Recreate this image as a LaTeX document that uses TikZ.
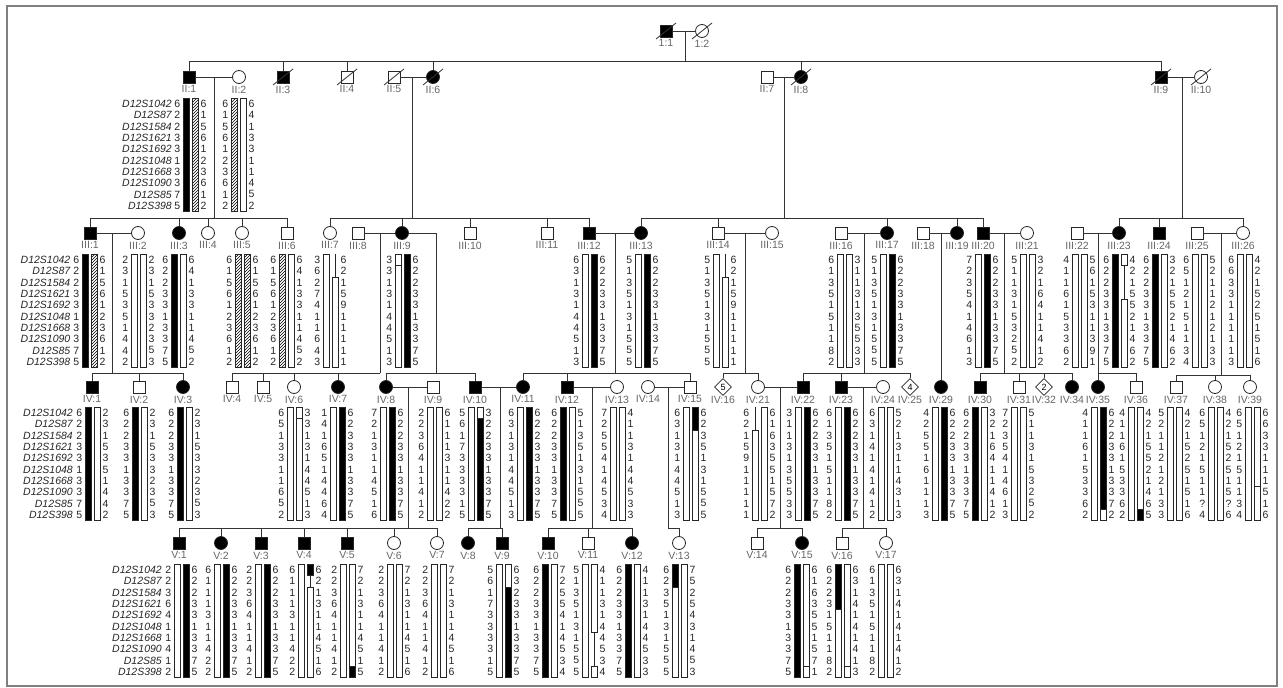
\documentclass[tikz,border=0pt]{standalone}
\usepackage{fontspec}
\setmainfont{Liberation Sans}
\usetikzlibrary{positioning,shapes.geometric,patterns}

\tikzset{
  kin/.style={draw=black!80,line width=0.8pt},
  male/.style={draw=black!85,line width=0.8pt,rectangle,minimum size=12pt,inner sep=0pt},
  female/.style={draw=black!85,line width=0.8pt,circle,minimum size=13pt,inner sep=0pt},
  unk/.style={draw=black!85,line width=0.8pt,diamond,minimum size=17pt,inner sep=0pt,font=\fontsize{9}{9}\selectfont},
  aff/.style={fill=black},
  lbl/.style={inner sep=0pt,text=black!60,font=\fontsize{10.5}{11}\selectfont},
  allele/.style={inner sep=0pt,text=black!85,font=\fontsize{10.5}{11}\selectfont},
  marker/.style={inner sep=0pt,text=black!85,font=\fontsize{10.5}{11}\selectfont\itshape},
  hapline/.style={draw=black!85,line width=0.7pt},
}

% row distance of the haplotype tables
\def\rs{11.3}
% bar pieces: x, first row y, from row, to row
\newcommand\barW[4]{\draw[hapline,fill=white] ({#1},{#2+(#3-0.5)*\rs}) rectangle ({#1+6},{#2+(#4-0.5)*\rs});}
\newcommand\barB[4]{\draw[hapline,fill=black] ({#1},{#2+(#3-0.5)*\rs}) rectangle ({#1+6},{#2+(#4-0.5)*\rs});}
\newcommand\barH[4]{\draw[hapline,pattern=north east lines] ({#1},{#2+(#3-0.5)*\rs}) rectangle ({#1+6},{#2+(#4-0.5)*\rs});}
\newcommand\barL[4]{\draw[hapline] ({#1+3},{#2+(#3-0.5)*\rs}) -- ({#1+3},{#2+(#4-0.5)*\rs});}
\newcommand\hapbar[3]{\foreach \sk/\sa/\sb in {#3}{\csname bar\sk\endcsname{#1}{#2}{\sa}{\sb}}}
% name, x of first bar, y of first row, left alleles, bar 1, bar 2, right alleles
\newcommand\hap[7]{%
  \foreach \al [count=\ri from 0] in {#4}
    \node[allele,anchor=east] (#1-l\ri) at ({#2-2.5},{#3+\ri*\rs}) {\al};
  \hapbar{#2}{#3}{#5}
  \hapbar{#2+9}{#3}{#6}
  \foreach \al [count=\ri from 0] in {#7}
    \node[allele,anchor=west] (#1-r\ri) at ({#2+17.5},{#3+\ri*\rs}) {\al};
}
\newcommand\markers[3]{%
  \foreach \mk [count=\ri from 0] in {D12S1042,D12S87,D12S1584,D12S1621,D12S1692,D12S1048,D12S1668,D12S1090,D12S85,D12S398}
    \node[marker,anchor=east] (#1-m\ri) at (#2,{#3+\ri*\rs}) {\mk};
}
% [text] name, style, x, y, label
\newcommand\ind[6][]{\node[#3] (#2) at (#4,#5) {#1};
  \node[lbl,below=8.5pt of #2.center] (#2-t) {#6};}
% descent point, sibship y, children
\newcommand\kids[3]{%
  \draw[kin] (#1) -- (#1 |- 0,#2);
  \foreach \kd in {#3} \draw[kin] (#1 |- 0,#2) -| (\kd.north);
}

\begin{document}
\begin{tikzpicture}[x=1pt,y=-1pt]
\useasboundingbox (0,0) rectangle (1283,688);
\draw[draw=black!50,line width=1.2pt] (7,6) rectangle (1277,686);

% generation I
\ind{I1}{male,aff}{666}{31}{1:1}
\ind{I2}{female}{702}{31}{1:2}

% generation II
\ind{II1}{male,aff}{189}{77}{II:1}
\ind{II2}{female}{239}{77}{II:2}
\ind{II3}{male,aff}{283}{77}{II:3}
\ind{II4}{male}{347}{77}{II:4}
\ind{II5}{male}{394}{77}{II:5}
\ind{II6}{female,aff}{433}{77}{II:6}
\ind{II7}{male}{767}{77}{II:7}
\ind{II8}{female,aff}{801}{77}{II:8}
\ind{II9}{male,aff}{1161}{77}{II:9}
\ind{II10}{female}{1201}{77}{II:10}

% generation III
\ind{III1}{male,aff}{90}{233}{III:1}
\ind{III2}{female}{138}{233}{III:2}
\ind{III3}{female,aff}{179}{233}{III:3}
\ind{III4}{female}{208}{233}{III:4}
\ind{III5}{female}{242}{233}{III:5}
\ind{III6}{male}{287}{233}{III:6}
\ind{III7}{female}{330}{233}{III:7}
\ind{III8}{male}{358}{233}{III:8}
\ind{III9}{female,aff}{402}{233}{III:9}
\ind{III10}{male}{470}{233}{III:10}
\ind{III11}{male}{547}{233}{III:11}
\ind{III12}{male,aff}{589}{233}{III:12}
\ind{III13}{female,aff}{641}{233}{III:13}
\ind{III14}{male}{718}{233}{III:14}
\ind{III15}{female}{772}{233}{III:15}
\ind{III16}{male}{841}{233}{III:16}
\ind{III17}{female,aff}{887}{233}{III:17}
\ind{III18}{male}{923}{233}{III:18}
\ind{III19}{female,aff}{957}{233}{III:19}
\ind{III20}{male,aff}{983}{233}{III:20}
\ind{III21}{female}{1027}{233}{III:21}
\ind{III22}{male}{1077}{233}{III:22}
\ind{III23}{female,aff}{1119}{233}{III:23}
\ind{III24}{male,aff}{1159}{233}{III:24}
\ind{III25}{male}{1197}{233}{III:25}
\ind{III26}{female}{1243}{233}{III:26}

% generation IV
\ind{IV1}{male,aff}{92}{387}{IV:1}
\ind{IV2}{male}{139}{387}{IV:2}
\ind{IV3}{female,aff}{183}{387}{IV:3}
\ind{IV4}{male}{232}{387}{IV:4}
\ind{IV5}{male}{263}{387}{IV:5}
\ind{IV6}{female}{294}{387}{IV:6}
\ind{IV7}{female,aff}{338}{387}{IV:7}
\ind{IV8}{female,aff}{386}{387}{IV:8}
\ind{IV9}{male}{433}{387}{IV:9}
\ind{IV10}{male,aff}{475}{387}{IV:10}
\ind{IV11}{female,aff}{523}{387}{IV:11}
\ind{IV12}{male,aff}{567}{387}{IV:12}
\ind{IV13}{female}{617}{387}{IV:13}
\ind{IV14}{female}{648}{387}{IV:14}
\ind{IV15}{male}{690}{387}{IV:15}
\ind[5]{IV16}{unk}{723}{387}{IV:16}
\ind{IV21}{female}{758}{387}{IV:21}
\ind{IV22}{male,aff}{803}{387}{IV:22}
\ind{IV23}{male,aff}{841}{387}{IV:23}
\ind{IV24}{female}{883}{387}{IV:24}
\ind[4]{IV25}{unk}{910}{387}{IV:25}
\ind{IV29}{female,aff}{941}{387}{IV:29}
\ind{IV30}{male,aff}{980}{387}{IV:30}
\ind{IV31}{male}{1019}{387}{IV:31}
\ind[2]{IV32}{unk}{1044}{387}{IV:32}
\ind{IV34}{female,aff}{1072}{387}{IV:34}
\ind{IV35}{female,aff}{1098}{387}{IV:35}
\ind{IV36}{male}{1136}{387}{IV:36}
\ind{IV37}{male}{1176}{387}{IV:37}
\ind{IV38}{female}{1215}{387}{IV:38}
\ind{IV39}{female}{1250}{387}{IV:39}

% generation V
\ind{V1}{male,aff}{179}{543}{V:1}
\ind{V2}{female,aff}{221}{543}{V:2}
\ind{V3}{male,aff}{261}{543}{V:3}
\ind{V4}{male,aff}{304}{543}{V:4}
\ind{V5}{male,aff}{347}{543}{V:5}
\ind{V6}{female}{394}{543}{V:6}
\ind{V7}{female}{437}{543}{V:7}
\ind{V8}{female,aff}{468}{543}{V:8}
\ind{V9}{male,aff}{502}{543}{V:9}
\ind{V10}{male,aff}{548}{543}{V:10}
\ind{V11}{male}{588}{543}{V:11}
\ind{V12}{female,aff}{632}{543}{V:12}
\ind{V13}{female}{679}{543}{V:13}
\ind{V14}{male}{757}{543}{V:14}
\ind{V15}{female,aff}{802}{543}{V:15}
\ind{V16}{male}{842}{543}{V:16}
\ind{V17}{female}{886}{543}{V:17}

% deceased
\foreach \dd in {I1,I2,II3,II4,II5,II6,II8,II9,II10}
  \draw[kin] (\dd.center) +(-10,8) -- +(10,-8);

% couples and their descent points
\foreach \pa/\pb in {I1/I2,II1/II2,II5/II6,II7/II8,II9/II10,III1/III2,III8/III9,III12/III13,
  III14/III15,III16/III17,III18/III19,III20/III21,III22/III23,III25/III26,
  IV8/IV9,IV10/IV11,IV12/IV13,IV14/IV15,IV21/IV22,IV23/IV24}
  \draw[kin] (\pa) -- (\pb);
\coordinate (m0) at (685,31);
\coordinate (m1) at (214,77);
\coordinate (m2) at (412,77);
\coordinate (m3) at (784,77);
\coordinate (m4) at (1182,77);
\coordinate (m5) at (112,233);
\coordinate (m6) at (380,233);
\coordinate (m7) at (436,233);
\coordinate (m8) at (615,233);
\coordinate (m9) at (745,233);
\coordinate (m10) at (864,233);
\coordinate (m11) at (941,233);
\coordinate (m12) at (1004,233);
\coordinate (m13) at (1098,233);
\coordinate (m14) at (1221,233);
\coordinate (m15) at (408,387);
\coordinate (m16) at (500,387);
\coordinate (m17) at (592,387);
\coordinate (m18) at (668,387);
\coordinate (m19) at (780,387);
\coordinate (m20) at (863,387);
\draw[kin] (III9) -- (m7);

\kids{m0}{61}{II1,II3,II4,II6,II8,II9}
\kids{m1}{218}{III1,III3,III4,III5,III6}
\kids{m2}{218}{III7,III9,III10,III11,III12}
\kids{m3}{218}{III13,III14,III17,III19,III20}
\kids{m4}{218}{III23,III24,III26}
\kids{m5}{373}{IV1,IV2,IV3}
\kids{m6}{373}{IV4,IV5,IV6,IV7}
\kids{m7}{373}{IV8,IV10}
\kids{m8}{373}{IV11,IV12,IV15}
\kids{m9}{373}{IV16,IV21}
\kids{m10}{373}{IV22,IV23,IV25}
\kids{m11}{373}{IV29}
\kids{m12}{373}{IV30,IV31,IV32,IV34}
\kids{m13}{373}{IV35,IV36}
\kids{m14}{375}{IV37,IV38,IV39}
\kids{m15}{528}{V1,V2,V3,V4,V5,V6,V7}
\kids{m16}{528}{V8,V9}
\kids{m17}{528}{V10,V11,V12}
\kids{m18}{528}{V13}
\kids{m19}{528}{V14,V15}
\kids{m20}{528}{V16,V17}

% marker names
\markers{mII}{172}{104}
\markers{mIII}{70.5}{260}
\markers{mIV}{73}{413}
\markers{mV}{162}{570}

% haplotypes, generation II
\hap{II1}{183}{104}{6,2,2,3,3,1,3,3,7,5}{B/0/10}{H/0/10}{6,1,5,6,1,2,3,6,1,2}
\hap{II2}{231}{104}{6,1,5,6,1,2,3,6,1,2}{H/0/10}{W/0/10}{6,4,1,3,3,1,1,4,5,2}

% generation III
\hap{III1}{82}{260}{6,2,2,3,3,1,3,3,7,5}{B/0/10}{H/0/10}{6,1,5,6,1,2,3,6,1,2}
\hap{III2}{131}{260}{2,3,1,5,3,5,1,4,4,2}{W/0/10}{W/0/10}{2,3,1,5,3,3,2,3,5,3}
\hap{III3}{171}{260}{6,2,2,3,3,1,3,3,7,5}{B/0/10}{W/0/10}{6,4,1,3,3,1,1,4,5,2}
\hap{III5}{235}{260}{6,1,5,6,1,2,3,6,1,2}{H/0/10}{H/0/10}{6,1,5,6,1,2,3,6,1,2}
\hap{III6}{279}{260}{6,1,5,6,1,2,3,6,1,2}{H/0/10}{W/0/10}{6,4,1,3,3,1,1,4,5,2}
\hap{III7}{323}{260}{3,6,2,7,4,1,1,6,4,3}{W/0/10}{L/0/2,W/2/10}{6,2,1,5,9,1,1,1,1,1}
\hap{III9}{395}{260}{3,3,1,3,1,4,4,5,1,3}{W/0/1,W/1/10}{B/0/10}{6,2,2,3,3,1,3,3,7,5}
\hap{III12}{582}{260}{6,3,1,3,1,4,4,5,1,3}{W/0/10}{B/0/10}{6,2,2,3,3,1,3,3,7,5}
\hap{III13}{635}{260}{5,1,3,5,1,3,1,5,5,5}{W/0/10}{B/0/10}{6,2,2,3,3,1,3,3,7,5}
\hap{III14}{713}{260}{5,1,3,5,1,3,1,5,5,5}{W/0/10}{L/0/2,W/2/10}{6,2,1,5,9,1,1,1,1,1}
\hap{III16}{837}{260}{6,1,3,5,1,5,1,1,8,2}{W/0/10}{W/0/10}{3,1,1,3,1,3,5,5,3,3}
\hap{III17}{880}{260}{5,1,3,5,1,3,1,5,5,5}{W/0/10}{B/0/10}{6,2,2,3,3,1,3,3,7,5}
\hap{III20}{975}{260}{7,2,3,5,4,1,4,6,1,3}{W/0/10}{B/0/10}{6,2,2,3,3,1,3,3,7,5}
\hap{III21}{1020}{260}{5,1,1,3,1,5,3,2,5,2}{W/0/10}{W/0/10}{3,2,1,6,4,1,1,4,1,2}
\hap{III22}{1072}{260}{4,1,1,6,1,5,3,3,6,2}{W/0/10}{W/0/10}{5,6,1,5,3,1,1,3,9,1}
\hap{III23}{1112}{260}{6,2,2,3,3,1,3,3,7,5}{B/0/10}{W/0/1,L/1/4,W/4/10}{4,2,1,5,5,2,1,4,6,2}
\hap{III24}{1152}{260}{6,2,2,3,3,1,3,3,7,5}{B/0/10}{W/0/10}{3,2,1,5,5,2,1,4,6,2}
\hap{III25}{1192}{260}{6,5,1,2,1,5,1,1,3,4}{W/0/10}{W/0/10}{5,2,1,1,2,1,2,1,3,3}
\hap{III26}{1237}{260}{6,6,3,3,1,1,1,1,1,3}{W/0/10}{W/0/10}{4,2,1,5,2,5,1,5,1,6}

% generation IV
\hap{IV1}{85}{413}{6,2,2,3,3,1,3,3,7,5}{B/0/10}{W/0/10}{2,3,1,5,3,5,1,4,4,2}
\hap{IV2}{132}{413}{6,2,2,3,3,1,3,3,7,5}{B/0/10}{W/0/10}{2,3,1,5,3,3,2,3,5,3}
\hap{IV3}{177}{413}{6,2,2,3,3,1,3,3,7,5}{B/0/10}{W/0/10}{2,3,1,5,3,3,2,3,5,3}
\hap{IV6}{287}{413}{6,5,1,3,3,1,1,6,5,2}{W/0/10}{W/0/1,W/1/10}{3,3,1,3,1,4,4,5,1,3}
\hap{IV7}{330}{413}{1,4,1,6,5,1,4,4,6,4}{W/0/10}{B/0/10}{6,2,3,3,3,1,3,3,7,5}
\hap{IV8}{380}{413}{7,2,1,3,1,1,4,5,1,6}{W/0/10}{B/0/10}{6,2,2,3,3,1,3,3,7,5}
\hap{IV9}{427}{413}{2,2,3,6,4,1,1,4,1,2}{W/0/10}{W/0/10}{6,1,1,1,3,1,1,4,2,2}
\hap{IV10}{468}{413}{5,6,1,7,3,3,3,3,1,5}{W/0/10}{W/0/1,B/1/10}{3,2,2,3,3,1,3,3,7,5}
\hap{IV11}{517}{413}{6,3,1,3,1,4,4,5,1,3}{W/0/10}{B/0/10}{6,2,2,3,3,1,3,3,7,5}
\hap{IV12}{560}{413}{6,2,2,3,3,1,3,3,7,5}{B/0/10}{W/0/10}{5,1,3,5,1,3,1,5,5,5}
\hap{IV13}{610}{413}{7,2,5,5,4,1,4,5,3,4}{W/0/10}{W/0/10}{4,1,1,3,1,4,4,5,3,3}
\hap{IV15}{683}{413}{6,3,1,3,1,4,4,5,1,3}{W/0/10}{B/0/2,W/2/10}{6,2,3,5,1,3,1,5,5,5}
\hap{IV21}{752}{413}{6,2,1,5,9,1,1,1,1,1}{L/0/2,W/2/10}{W/0/10}{6,1,6,3,5,5,1,5,7,2}
\hap{IV22}{795}{413}{3,1,1,3,1,3,5,5,3,3}{W/0/10}{B/0/10}{6,2,2,3,3,1,3,3,7,5}
\hap{IV23}{835}{413}{6,1,3,5,1,5,1,1,8,2}{W/0/10}{B/0/10}{6,2,2,3,3,1,3,3,7,5}
\hap{IV24}{878}{413}{6,3,1,4,1,4,1,4,1,2}{W/0/10}{W/0/10}{5,2,1,3,1,1,4,3,1,3}
\hap{IV29}{932}{413}{4,2,5,5,1,6,1,1,1,3}{W/0/10}{B/0/10}{6,2,2,3,3,1,3,3,7,5}
\hap{IV30}{972}{413}{6,2,2,3,3,1,3,3,7,5}{B/0/10}{W/0/10}{3,2,1,6,4,1,1,4,1,2}
\hap{IV31}{1011}{413}{7,2,3,5,4,1,4,6,1,3}{W/0/10}{W/0/10}{5,1,1,3,1,5,3,2,5,2}
\hap{IV35}{1091}{413}{4,1,1,6,1,5,3,3,6,2}{W/0/10}{B/0/9,W/9/10}{6,2,2,3,3,1,3,3,7,2}
\hap{IV36}{1128}{413}{4,1,1,6,1,5,3,3,6,2}{W/0/10}{W/0/9,B/9/10}{4,2,1,5,5,2,1,4,6,5}
\hap{IV37}{1167}{413}{5,2,1,1,2,1,2,1,3,3}{W/0/10}{W/0/10}{4,2,1,5,2,5,1,5,1,6}
\hap{IV38}{1208}{413}{6,5,1,2,1,5,1,1,?,4}{W/0/10}{W/0/10}{4,2,1,5,2,5,1,5,?,6}
\hap{IV39}{1245}{413}{6,5,1,2,1,5,1,1,3,4}{W/0/10}{W/0/7,W/7/10}{6,6,3,3,1,1,1,5,1,6}

% generation V
\hap{V1}{174}{570}{2,2,3,6,4,1,1,4,1,2}{W/0/10}{B/0/10}{6,2,2,3,3,1,3,3,7,5}
\hap{V2}{214}{570}{6,1,1,1,3,1,1,4,2,2}{W/0/10}{B/0/10}{6,2,2,3,3,1,3,3,7,5}
\hap{V3}{255}{570}{2,2,3,6,4,1,1,4,1,2}{W/0/10}{B/0/10}{6,2,2,3,3,1,3,3,7,5}
\hap{V4}{298}{570}{6,1,1,1,3,1,1,4,2,2}{W/0/10}{B/0/1,L/1/2,W/2/10}{6,2,1,3,1,1,4,5,1,6}
\hap{V5}{340}{570}{2,2,3,6,4,1,1,4,1,2}{W/0/10}{W/0/9,B/9/10}{7,2,1,3,1,1,4,5,1,5}
\hap{V6}{387}{570}{2,2,3,6,4,1,1,4,1,2}{W/0/10}{W/0/10}{7,2,1,3,1,1,4,5,1,6}
\hap{V7}{431}{570}{2,2,3,6,4,1,1,4,1,2}{W/0/10}{W/0/10}{7,2,1,3,1,1,4,5,1,6}
\hap{V9}{496}{570}{5,6,1,7,3,3,3,3,1,5}{W/0/10}{W/0/2,B/2/10}{6,3,2,3,3,1,3,3,7,5}
\hap{V10}{542}{570}{6,2,2,3,3,1,3,3,7,5}{B/0/10}{W/0/10}{7,2,5,5,4,1,4,5,3,4}
\hap{V11}{582}{570}{5,1,3,5,1,3,1,5,5,5}{W/0/10}{W/0/6,L/6/9,W/9/10}{4,1,1,3,1,4,4,5,3,4}
\hap{V12}{625}{570}{6,2,2,3,3,1,3,3,7,5}{B/0/10}{W/0/10}{4,1,1,3,1,4,4,5,3,3}
\hap{V13}{672}{570}{6,2,3,5,1,3,1,5,5,5}{B/0/2,W/2/10}{W/0/10}{7,5,2,5,4,3,1,4,5,3}
\hap{V15}{794}{570}{6,2,2,3,3,1,3,3,7,5}{B/0/10}{W/0/9,W/9/10}{6,1,6,3,5,5,1,5,7,1}
\hap{V16}{835}{570}{6,2,2,3,1,5,1,1,8,2}{B/0/4,W/4/10}{W/0/9,W/9/10}{6,3,1,4,1,4,1,4,1,3}
\hap{V17}{878}{570}{6,1,3,5,1,5,1,1,8,2}{W/0/10}{W/0/10}{6,3,1,4,1,4,1,4,1,2}
\end{tikzpicture}
\end{document}
